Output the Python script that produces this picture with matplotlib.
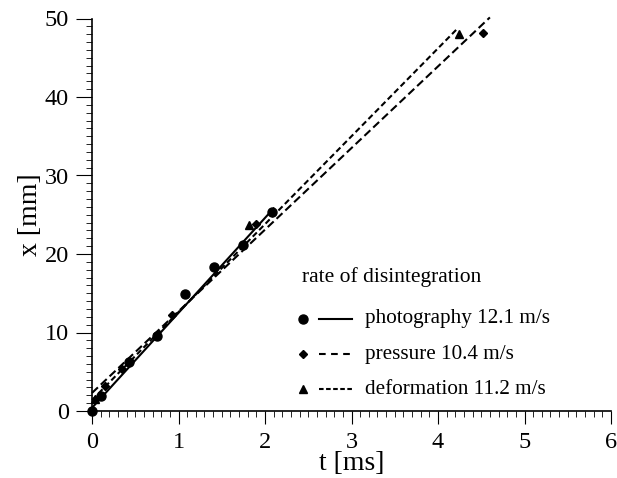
import numpy as np
import matplotlib
matplotlib.use("Agg")
import matplotlib.pyplot as plt
from matplotlib.ticker import MultipleLocator

plt.rcParams["font.family"] = ["Liberation Serif", "DejaVu Serif"]

# measured points, t in ms and x in mm
photo_t = [0.0, 0.10, 0.43, 0.75, 1.08, 1.41, 1.74, 2.08]
photo_x = [0.0, 1.9, 6.3, 9.6, 14.9, 18.4, 21.2, 25.3]
press_t = [0.15, 0.35, 0.92, 1.90, 4.52]
press_x = [3.2, 5.3, 12.2, 23.8, 48.2]
deform_t = [0.03, 1.82, 4.24]
deform_x = [1.5, 23.7, 48.0]

# fitted lines: slope (m/s = mm/ms), intercept (mm), t range
labels = ["photography 12.1 m/s", "pressure 10.4 m/s", "deformation 11.2 m/s"]
slopes = [12.1, 10.4, 11.2]
intercepts = [0.4, 2.3, 1.4]
t_ends = [2.10, 4.60, 4.23]

fig = plt.figure(figsize=(6.17, 4.78), dpi=100)
ax = fig.add_axes([92 / 617, 1 - 411 / 478, (611 - 92) / 617, (411 - 18.5) / 478])

line_styles = ["-", (0, (3.9, 1.9)), (0, (2.8, 1.6))]
for k in range(3):
    tt = np.array([0.0, t_ends[k]])
    ax.plot(tt, slopes[k] * tt + intercepts[k], color="black", lw=1.5,
            linestyle=line_styles[k], clip_on=False)

ax.plot(photo_t, photo_x, "o", color="black", ms=6.5, clip_on=False, zorder=5)
ax.plot(press_t, press_x, "D", color="black", ms=4, clip_on=False, zorder=5)
ax.plot(deform_t, deform_x, "^", color="black", ms=5.5, clip_on=False, zorder=5)

ax.set_xlim(0, 6)
ax.set_ylim(0, 50)
ax.spines["top"].set_visible(False)
ax.spines["right"].set_visible(False)
for s in ["left", "bottom"]:
    ax.spines[s].set_linewidth(1.2)

ax.xaxis.set_major_locator(MultipleLocator(1))
ax.xaxis.set_minor_locator(MultipleLocator(0.1))
ax.yaxis.set_major_locator(MultipleLocator(10))
ax.yaxis.set_minor_locator(MultipleLocator(1))
ax.tick_params(axis="x", which="major", direction="out", length=9, width=0.8,
               labelsize=17.5, pad=6)
ax.tick_params(axis="x", which="minor", direction="out", length=4.5, width=0.6)
ax.tick_params(axis="y", which="major", direction="out", length=11.5, width=0.8,
               labelsize=17.5, pad=5)
ax.tick_params(axis="y", which="minor", direction="out", length=4, width=0.6)

ax.set_xlabel("t [ms]", fontsize=20, labelpad=-1)
ax.set_ylabel("x [mm]", fontsize=20, labelpad=1)

# legend drawn by hand, positions in axes fraction
def ax_xy(px, py):
    return (px - 92) / (611 - 92), (411 - py) / (411 - 18.5)

tx, ty = ax_xy(302, 277)
ax.text(tx, ty, "rate of disintegration", transform=ax.transAxes,
        fontsize=15.5, va="center", ha="left")
markers = ["o", "D", "^"]
msizes = [6.5, 4, 5.5]
legend_dash = ["-", (0, (3.2, 2.6)), (0, (2.2, 1.2))]
for k, py in enumerate([319, 354, 389]):
    mx, my = ax_xy(303, py)
    ax.plot([mx], [my], markers[k], color="black", ms=msizes[k],
            transform=ax.transAxes, clip_on=False)
    l0, _ = ax_xy(319, py)
    l1, _ = ax_xy(352, py)
    ax.plot([l0, l1], [my, my], color="black", lw=1.5, linestyle=legend_dash[k],
            transform=ax.transAxes, clip_on=False)
    sx, _ = ax_xy(365, py)
    ax.text(sx, my, labels[k], transform=ax.transAxes, fontsize=15.2,
            va="center", ha="left")

fig.savefig("out.png", dpi=100)
